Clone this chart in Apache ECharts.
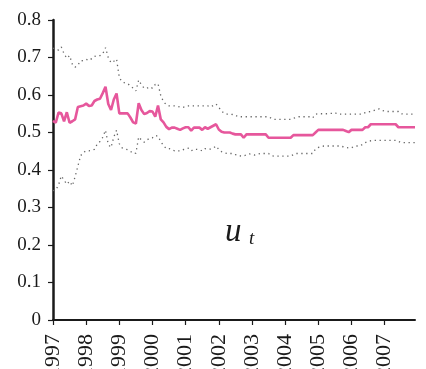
<!DOCTYPE html>
<html>
<head>
<meta charset="utf-8">
<script src="https://cdn.jsdelivr.net/npm/echarts@6/dist/echarts.min.js"></script>
<style>
html,body{margin:0;padding:0;background:#fff;}
#chart{width:426px;height:369px;}
</style>
</head>
<body>
<div id="chart"></div>
<script>
// Monthly observations, Jan 1997 .. Dec 2007
var years = [1997,1998,1999,2000,2001,2002,2003,2004,2005,2006,2007];
var months = [];
years.forEach(function(y){ for (var m = 1; m <= 12; m++) months.push(y + '-' + (m < 10 ? '0' + m : m)); });

var yTicks = [0, 0.1, 0.2, 0.3, 0.4, 0.5, 0.6, 0.7, 0.8];

var estimate = [
  0.531,0.526,0.553,0.551,0.530,0.554,0.526,0.530,0.535,0.568,0.570,0.572,
  0.577,0.571,0.572,0.584,0.588,0.590,0.605,0.622,0.576,0.560,0.588,0.604,
  0.551,0.551,0.551,0.551,0.540,0.527,0.524,0.578,0.560,0.549,0.552,0.557,
  0.556,0.542,0.572,0.535,0.527,0.515,0.509,0.513,0.513,0.510,0.507,0.511,
  0.514,0.514,0.505,0.513,0.513,0.513,0.507,0.514,0.510,0.514,0.518,0.522,
  0.508,0.502,0.500,0.500,0.500,0.497,0.495,0.495,0.495,0.486,0.495,0.495,
  0.495,0.495,0.495,0.495,0.495,0.495,0.486,0.486,0.486,0.486,0.486,0.486,
  0.486,0.486,0.486,0.493,0.493,0.493,0.493,0.493,0.493,0.493,0.493,0.500,
  0.507,0.507,0.507,0.507,0.507,0.507,0.507,0.507,0.507,0.507,0.504,0.501,
  0.507,0.507,0.507,0.507,0.507,0.514,0.514,0.522,0.522,0.522,0.522,0.522,
  0.522,0.522,0.522,0.522,0.522,0.514,0.514,0.514,0.514,0.514,0.514,0.514
];

var upper = [
  0.725,0.722,0.720,0.728,0.710,0.698,0.705,0.682,0.674,0.680,0.691,0.692,
  0.695,0.692,0.697,0.703,0.705,0.705,0.710,0.726,0.700,0.686,0.690,0.696,
  0.646,0.636,0.632,0.630,0.625,0.618,0.611,0.640,0.627,0.618,0.618,0.622,
  0.618,0.628,0.630,0.598,0.582,0.574,0.571,0.571,0.571,0.570,0.568,0.567,
  0.569,0.571,0.571,0.571,0.571,0.571,0.571,0.571,0.571,0.568,0.572,0.576,
  0.567,0.557,0.551,0.549,0.549,0.548,0.546,0.542,0.542,0.542,0.542,0.542,
  0.542,0.542,0.542,0.542,0.542,0.542,0.542,0.538,0.535,0.535,0.535,0.535,
  0.535,0.535,0.535,0.538,0.540,0.542,0.542,0.542,0.542,0.542,0.539,0.549,
  0.550,0.550,0.550,0.550,0.551,0.551,0.553,0.549,0.549,0.549,0.549,0.549,
  0.549,0.549,0.549,0.549,0.549,0.553,0.555,0.556,0.558,0.561,0.563,0.559,
  0.557,0.556,0.556,0.556,0.556,0.556,0.550,0.549,0.549,0.549,0.549,0.549
];

var lower = [
  0.345,0.347,0.360,0.384,0.373,0.362,0.370,0.358,0.382,0.410,0.438,0.447,
  0.451,0.451,0.452,0.455,0.469,0.476,0.487,0.506,0.468,0.460,0.488,0.506,
  0.470,0.459,0.456,0.454,0.450,0.444,0.445,0.488,0.480,0.474,0.480,0.485,
  0.486,0.492,0.490,0.476,0.465,0.457,0.457,0.455,0.451,0.451,0.451,0.454,
  0.456,0.458,0.451,0.455,0.455,0.454,0.451,0.457,0.455,0.456,0.458,0.464,
  0.455,0.449,0.446,0.444,0.444,0.444,0.441,0.440,0.437,0.438,0.440,0.443,
  0.442,0.440,0.442,0.444,0.444,0.444,0.444,0.438,0.437,0.437,0.437,0.437,
  0.437,0.437,0.437,0.441,0.444,0.444,0.444,0.444,0.444,0.444,0.444,0.456,
  0.460,0.462,0.464,0.464,0.464,0.464,0.464,0.464,0.464,0.462,0.460,0.459,
  0.459,0.463,0.464,0.464,0.468,0.473,0.476,0.478,0.479,0.479,0.479,0.479,
  0.479,0.479,0.479,0.479,0.479,0.476,0.473,0.473,0.473,0.473,0.473,0.473
];

var seriesLabel = 'u';
var seriesSub = 't';

var FONT = '"Liberation Serif", "DejaVu Serif", serif';
var chart = echarts.init(document.getElementById('chart'), null, {renderer: 'canvas'});
var isJan = function (idx) { return idx % 12 === 0; };

chart.setOption({
  animation: false,
  backgroundColor: '#fff',
  grid: {left: 53, right: 11, top: 20, bottom: 49, containLabel: false, outerBoundsMode: 'none'},
  xAxis: {
    type: 'category',
    data: months,
    boundaryGap: false,
    axisLine: {show: true, lineStyle: {color: '#1a1a1a', width: 2}},
    axisTick: {show: true, interval: isJan, length: 5, lineStyle: {color: '#1a1a1a', width: 1.2}},
    axisLabel: {
      interval: isJan,
      rotate: 90,
      margin: 14,
      fontFamily: FONT,
      fontSize: 22,
      color: '#1a1a1a',
      hideOverlap: false,
      formatter: function (v) { return v.slice(0, 4); }
    },
    splitLine: {show: false}
  },
  yAxis: {
    type: 'value',
    min: yTicks[0],
    max: yTicks[yTicks.length - 1],
    interval: 0.1,
    axisLine: {show: true, lineStyle: {color: '#1a1a1a', width: 2.5}},
    axisTick: {show: true, length: 5, lineStyle: {color: '#1a1a1a', width: 1.2}},
    axisLabel: {
      margin: 12,
      fontFamily: FONT,
      fontSize: 19,
      color: '#1a1a1a',
      formatter: function (v) { return String(Math.round(v * 10) / 10); }
    },
    splitLine: {show: false}
  },
  series: [
    {
      name: 'upper', type: 'line', data: upper, symbol: 'none', z: 2,
      lineStyle: {color: '#666', width: 1.3, type: [1.3, 3.6]}
    },
    {
      name: 'lower', type: 'line', data: lower, symbol: 'none', z: 2,
      lineStyle: {color: '#666', width: 1.3, type: [1.3, 3.6]}
    },
    {
      name: 'estimate', type: 'line', data: estimate, symbol: 'none', z: 3,
      lineStyle: {color: '#E6579C', width: 2.6}
    }
  ],
  graphic: [
    {type: 'text', left: 225, top: 216, z: 10,
     style: {text: seriesLabel, font: 'italic 33px ' + FONT, fill: '#1a1a1a'}},
    {type: 'text', left: 249, top: 229, z: 10,
     style: {text: seriesSub, font: 'italic 19px ' + FONT, fill: '#1a1a1a'}}
  ]
});
</script>
</body>
</html>
